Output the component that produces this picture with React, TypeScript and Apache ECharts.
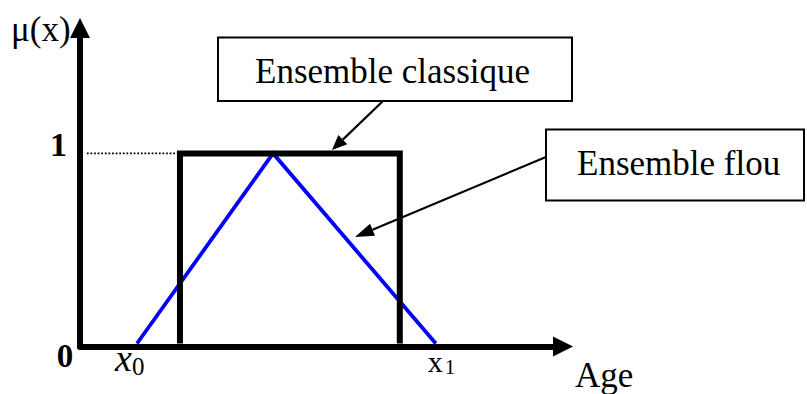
import React, { useEffect, useRef } from "react";
import * as echarts from "echarts";

// ---- data (axis units: x = arbitrary age scale 0..100, y = membership 0..1) ----
const crispX = [20.2, 20.2, 66, 66];
const crispY = [0, 1, 1, 0];
const fuzzyX = [11.25, 39.6, 73.5];
const fuzzyY = [0, 1, 0];
const guideX = [0.8, 20.2];
const guideY = [1, 1];
const yTickValues = [0, 1];
const yTickLabels = ["0", "1"];
const xTickValues = [11.25, 73.5];
const xTickMain = ["x", "x"];
const xTickSub = ["0", "1"];
const boxLabels = ["Ensemble classique", "Ensemble flou"];
const yAxisName = "μ(x)";
const xAxisName = "Age";

const FONT = "'Liberation Serif', 'Times New Roman', serif";

function arrow(x1: number, y1: number, tx: number, ty: number, len: number, half: number) {
  const dx = x1 - tx;
  const dy = y1 - ty;
  const d = Math.sqrt(dx * dx + dy * dy);
  const ux = dx / d;
  const uy = dy / d;
  const bx = tx + ux * len;
  const by = ty + uy * len;
  const px = -uy;
  const py = ux;
  return [
    {
      type: "line",
      shape: { x1, y1, x2: bx, y2: by },
      style: { stroke: "#000", lineWidth: 2.2 },
      z: 20,
    },
    {
      type: "polygon",
      shape: {
        points: [
          [tx, ty],
          [bx + px * half, by + py * half],
          [bx - px * half, by - py * half],
        ],
      },
      style: { fill: "#000" },
      z: 20,
    },
  ];
}

export default function App() {
  const ref = useRef<HTMLDivElement>(null);
  useEffect(() => {
    if (!ref.current) return;
    const chart = echarts.init(ref.current, null, { renderer: "svg" });
    chart.setOption({
      animation: false,
      backgroundColor: "#fff",
      grid: { left: 80, top: 28, width: 483, height: 318.5, containLabel: false },
      xAxis: {
        type: "value",
        min: -0.625,
        max: 100,
        axisLine: {
          show: true,
          onZero: false,
          lineStyle: { color: "#000", width: 6 },
          symbol: ["none", "triangle"],
          symbolSize: [20, 20],
        },
        axisTick: { show: false },
        axisLabel: { show: false },
        splitLine: { show: false },
      },
      yAxis: {
        type: "value",
        min: -0.0158,
        max: 1.66,
        axisLine: {
          show: true,
          onZero: false,
          lineStyle: { color: "#000", width: 6 },
          symbol: ["none", "triangle"],
          symbolSize: [20, 20],
        },
        axisTick: { show: false },
        axisLabel: { show: false },
        splitLine: { show: false },
      },
      series: [
        {
          type: "line",
          data: guideX.map((x, i) => [x, guideY[i]]),
          symbol: "none",
          lineStyle: { color: "#000", width: 1.8, type: [1.8, 1.8] },
          z: 2,
        },
        {
          type: "line",
          data: fuzzyX.map((x, i) => [x, fuzzyY[i]]),
          symbol: "none",
          lineStyle: { color: "#0000ff", width: 3.8, join: "miter", cap: "butt" },
          z: 3,
        },
        {
          type: "line",
          data: crispX.map((x, i) => [x, crispY[i]]),
          symbol: "none",
          lineStyle: { color: "#000", width: 6, join: "miter", cap: "butt" },
          z: 4,
        },
      ],
    });

    const px = (x: number, y: number) => chart.convertToPixel({ gridIndex: 0 }, [x, y]) as number[];
    const origin = px(0, 0);
    const graphics: any[] = [];

    // y tick labels
    yTickValues.forEach((v, i) => {
      const p = px(0, v);
      const isZero = v === 0;
      graphics.push({
        type: "text",
        x: isZero ? p[0] - 18 : p[0] - 16,
        y: isZero ? p[1] + 12.5 : p[1] - 9,
        style: {
          text: yTickLabels[i],
          font: `bold ${isZero ? 33 : 34}px ${FONT}`,
          fill: "#000",
          align: isZero ? "center" : "right",
          verticalAlign: "middle",
        },
        z: 30,
      });
    });

    // x tick labels (x0 italic, x1 upright)
    xTickValues.forEach((v, i) => {
      const p = px(v, 0);
      const first = i === 0;
      graphics.push({
        type: "text",
        x: first ? p[0] - 22 : p[0] - 8,
        y: first ? p[1] + 14.6 : p[1] + 18,
        style: {
          text: xTickMain[i],
          font: `${first ? "italic " : ""}${first ? 38 : 30}px ${FONT}`,
          fill: "#000",
          align: "left",
          verticalAlign: "middle",
        },
        z: 30,
      });
      graphics.push({
        type: "text",
        x: first ? p[0] - 5 : p[0] + 9,
        y: first ? p[1] + 23 : p[1] + 23.5,
        style: {
          text: xTickSub[i],
          font: `${first ? 25 : 21}px ${FONT}`,
          fill: "#000",
          align: "left",
          verticalAlign: "middle",
        },
        z: 30,
      });
    });

    // axis names
    graphics.push({
      type: "text",
      x: origin[0] - 72,
      y: 29,
      style: { text: yAxisName, font: `35px ${FONT}`, fill: "#000", align: "left", verticalAlign: "middle" },
      z: 30,
    });
    graphics.push({
      type: "text",
      x: 575,
      y: 375,
      style: { text: xAxisName, font: `35px ${FONT}`, fill: "#000", align: "left", verticalAlign: "middle" },
      z: 30,
    });

    // annotation boxes
    graphics.push({
      type: "rect",
      shape: { x: 218, y: 37.5, width: 354, height: 63.5 },
      style: { fill: "#fff", stroke: "#000", lineWidth: 2 },
      z: 25,
    });
    graphics.push({
      type: "text",
      x: 255,
      y: 71,
      style: { text: boxLabels[0], font: `35px ${FONT}`, fill: "#000", align: "left", verticalAlign: "middle" },
      z: 26,
    });
    graphics.push({
      type: "rect",
      shape: { x: 546, y: 129.5, width: 258, height: 71 },
      style: { fill: "#fff", stroke: "#000", lineWidth: 2 },
      z: 25,
    });
    graphics.push({
      type: "text",
      x: 577,
      y: 163.3,
      style: { text: boxLabels[1], font: `35px ${FONT}`, fill: "#000", align: "left", verticalAlign: "middle" },
      z: 26,
    });

    // arrows
    graphics.push(...arrow(383, 101, 332, 150, 15, 6.5));
    graphics.push(...arrow(546, 157, 355, 237, 19, 6.5));

    chart.setOption({ graphic: { elements: graphics } });

    return () => chart.dispose();
  }, []);

  return (
    <div
      ref={ref}
      style={{ position: "fixed", left: 0, top: 0, width: 807, height: 394, background: "#fff" }}
    />
  );
}
